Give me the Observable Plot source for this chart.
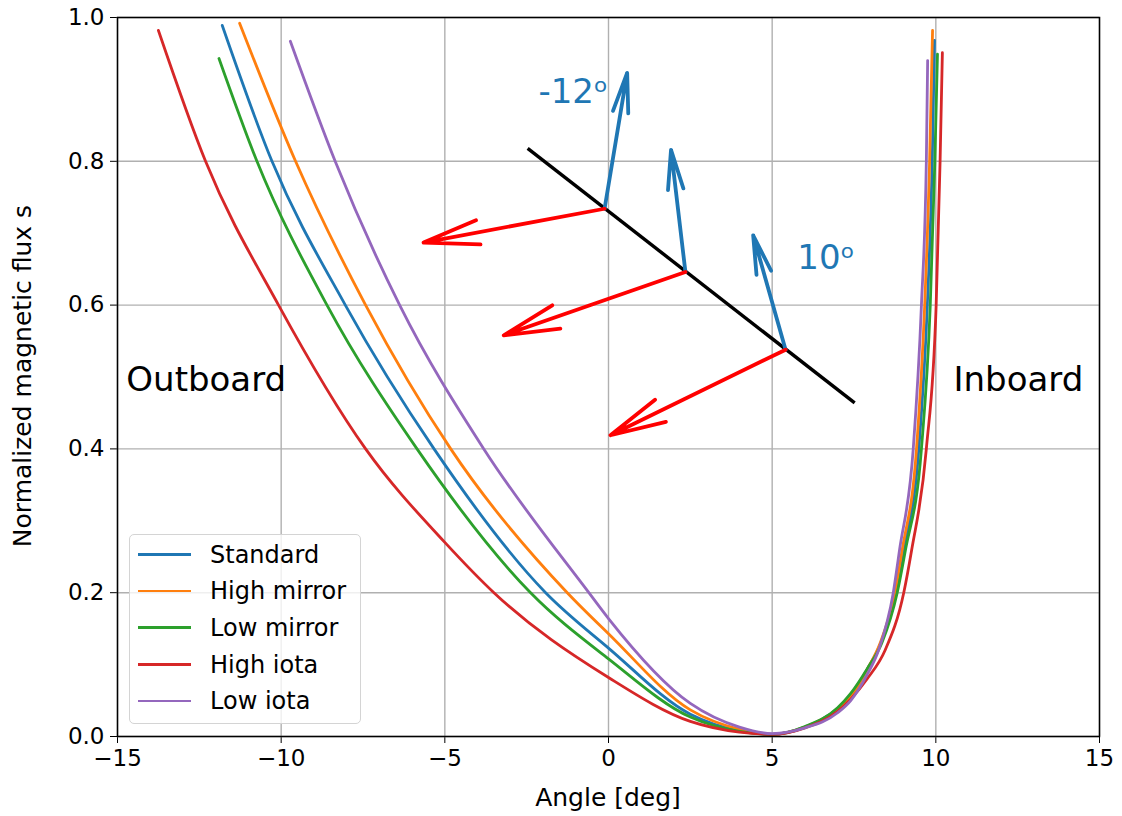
<!DOCTYPE html>
<html>
<head>
<meta charset="utf-8">
<script src="https://cdn.jsdelivr.net/npm/d3@7"></script>
<script src="https://cdn.jsdelivr.net/npm/@observablehq/plot@0.6"></script>
<style>
  body { margin: 0; background: #fff; font-family: "DejaVu Sans", sans-serif; }
  #wrap { position: relative; width: 1122px; height: 816px; overflow: hidden; }
  #wrap svg { position: absolute; left: 0; top: 0; }
  .axlabel { position: absolute; font-size: 25px; color: #000; text-align: center; white-space: nowrap; }
  .legend { position: absolute; left: 129px; top: 534px; width: 232px; height: 190px; box-sizing: border-box;
            border: 1.5px solid #d4d4d4; border-radius: 5px; background: rgba(255,255,255,0.8); }
  .legend .sw { position: absolute; left: 8px; width: 53px; height: 2.8px; }
  .legend .lb { position: absolute; left: 80px; font-size: 24px; line-height: 24px; color: #000; white-space: nowrap; }
</style>
</head>
<body>
<div id="wrap"></div>
<script>
// ---------- data ----------
const seriesNames  = ["Standard", "High mirror", "Low mirror", "High iota", "Low iota"];
const seriesColors = ["#1f77b4", "#ff7f0e", "#2ca02c", "#d62728", "#9467bd"];

const standardAngle = [-11.8, -10.28, -8.04, -5.33, -1.92, 0, 2.5, 4, 5, 6, 7, 7.4, 7.9, 8.32, 8.78, 9.02, 9.48, 9.74, 9.89, 9.96];
const standardFlux  = [0.989, 0.8, 0.6, 0.4, 0.2, 0.123, 0.031, 0.008, 0.003, 0.013, 0.039, 0.056, 0.093, 0.13, 0.2, 0.259, 0.4, 0.6, 0.8, 0.968];

const highMirrorAngle = [-11.27, -9.56, -7.42, -4.82, -1.26, 0, 2.5, 4, 5, 6, 7, 7.4, 7.9, 8.3, 8.75, 8.97, 9.41, 9.66, 9.81, 9.9];
const highMirrorFlux  = [0.992, 0.8, 0.6, 0.4, 0.2, 0.143, 0.037, 0.01, 0.003, 0.013, 0.038, 0.055, 0.093, 0.13, 0.2, 0.259, 0.4, 0.6, 0.8, 0.982];

const lowMirrorAngle = [-11.9, -10.74, -8.6, -5.85, -2.38, 0, 2.5, 4, 5, 6, 7, 7.4, 7.9, 8.35, 8.82, 9.07, 9.56, 9.83, 9.97, 10.05];
const lowMirrorFlux  = [0.943, 0.8, 0.6, 0.4, 0.2, 0.108, 0.027, 0.007, 0.003, 0.014, 0.04, 0.06, 0.094, 0.13, 0.2, 0.259, 0.4, 0.6, 0.8, 0.949];

const highIotaAngle = [-13.75, -12.31, -10.08, -7.42, -5, -3.5, 0, 2.5, 4, 5, 6, 7, 7.4, 7.9, 8.45, 9.02, 9.26, 9.71, 10.01, 10.13, 10.2];
const highIotaFlux  = [0.982, 0.8, 0.6, 0.4, 0.27, 0.2, 0.082, 0.021, 0.006, 0.003, 0.012, 0.035, 0.052, 0.08, 0.12, 0.2, 0.259, 0.4, 0.6, 0.8, 0.951];

const lowIotaAngle = [-9.72, -8.35, -6.38, -3.81, -0.6, 0, 2.5, 4, 5, 6, 7, 7.4, 7.9, 8.25, 8.7, 8.89, 9.31, 9.56, 9.71, 9.75];
const lowIotaFlux  = [0.967, 0.8, 0.6, 0.4, 0.2, 0.164, 0.046, 0.013, 0.004, 0.012, 0.033, 0.05, 0.086, 0.12, 0.2, 0.259, 0.4, 0.6, 0.8, 0.94];

// annotation: surface line, normal (blue) and field (red) arrows
const surfaceAngle = [-2.47, 7.52];
const surfaceFlux  = [0.818, 0.464];
const arrowBaseAngle = [-0.12, 2.35, 5.41];
const arrowBaseFlux  = [0.734, 0.646, 0.538];
const normalTipAngle = [0.57, 1.91, 4.42];
const normalTipFlux  = [0.923, 0.816, 0.697];
const fieldTipAngle  = [-5.65, -3.2, 0.06];
const fieldTipFlux   = [0.687, 0.558, 0.419];

const angleLabels     = ["-12\u1D52", "10\u1D52"];
const angleLabelAngle = [-2.14, 5.77];
const angleLabelFlux  = [0.896, 0.666];

const sideLabels     = ["Outboard", "Inboard"];
const sideLabelAngle = [-14.73, 10.54];
const sideLabelFlux  = [0.495, 0.495];

const xTicks = [-15, -10, -5, 0, 5, 10, 15];
const yTicks = [0, 0.2, 0.4, 0.6, 0.8, 1.0];
const xLabel = "Angle [deg]";
const yLabel = "Normalized magnetic flux s";

// ---------- build tables ----------
const seriesAngles = [standardAngle, highMirrorAngle, lowMirrorAngle, highIotaAngle, lowIotaAngle];
const seriesFluxes = [standardFlux, highMirrorFlux, lowMirrorFlux, highIotaFlux, lowIotaFlux];
const curveRows = [];
seriesNames.forEach((name, k) => {
  seriesAngles[k].forEach((a, i) => curveRows.push({series: name, angle: a, flux: seriesFluxes[k][i]}));
});
const surfaceRows = [{x1: surfaceAngle[0], y1: surfaceFlux[0], x2: surfaceAngle[1], y2: surfaceFlux[1]}];
const normalRows = arrowBaseAngle.map((a, i) => ({x1: a, y1: arrowBaseFlux[i], x2: normalTipAngle[i], y2: normalTipFlux[i]}));
const fieldRows  = arrowBaseAngle.map((a, i) => ({x1: a, y1: arrowBaseFlux[i], x2: fieldTipAngle[i], y2: fieldTipFlux[i]}));
const angleLabelRows = angleLabels.map((t, i) => ({text: t, x: angleLabelAngle[i], y: angleLabelFlux[i]}));
const sideLabelRows  = sideLabels.map((t, i) => ({text: t, x: sideLabelAngle[i], y: sideLabelFlux[i]}));

const fmtX = d => (d < 0 ? "\u2212" + Math.abs(d) : String(d));

const chart = Plot.plot({
  width: 1122,
  height: 816,
  marginTop: 17,
  marginRight: 23,
  marginBottom: 80,
  marginLeft: 117,
  style: {fontFamily: "DejaVu Sans, sans-serif", fontSize: "23px", color: "#000", background: "transparent", overflow: "visible"},
  x: {domain: [-15, 15], ticks: xTicks, tickFormat: fmtX, tickSize: 7, tickPadding: 6, label: null},
  y: {domain: [0, 1], ticks: yTicks, tickFormat: d3.format(".1f"), tickSize: 7, tickPadding: 6, label: null},
  color: {domain: seriesNames, range: seriesColors},
  marks: [
    Plot.gridX(xTicks, {stroke: "#b0b0b0", strokeOpacity: 1, strokeWidth: 1.4}),
    Plot.gridY(yTicks, {stroke: "#b0b0b0", strokeOpacity: 1, strokeWidth: 1.4}),
    Plot.line(curveRows, {x: "angle", y: "flux", z: "series", stroke: "series", strokeWidth: 2.8, curve: "monotone-x"}),
    Plot.link(surfaceRows, {x1: "x1", y1: "y1", x2: "x2", y2: "y2", stroke: "#000", strokeWidth: 3.4}),
    Plot.arrow(normalRows, {x1: "x1", y1: "y1", x2: "x2", y2: "y2", stroke: "#1f77b4", strokeWidth: 3.8, headLength: 16, headAngle: 22}),
    Plot.arrow(fieldRows, {x1: "x1", y1: "y1", x2: "x2", y2: "y2", stroke: "#ff0000", strokeWidth: 3.8, headLength: 22.5, headAngle: 25}),
    Plot.text(angleLabelRows, {x: "x", y: "y", text: "text", textAnchor: "start", fontSize: 34, fill: "#1f77b4"}),
    Plot.text(sideLabelRows, {x: "x", y: "y", text: "text", textAnchor: "start", fontSize: 34, fill: "#000"}),
    Plot.frame({stroke: "#000", strokeWidth: 1.5})
  ]
});

const wrap = document.getElementById("wrap");
wrap.appendChild(chart);

// axis labels
const xl = document.createElement("div");
xl.className = "axlabel";
xl.textContent = xLabel;
xl.style.left = (608 - 250) + "px";
xl.style.width = "500px";
xl.style.top = "785px";
xl.style.lineHeight = "25px";
wrap.appendChild(xl);

const yl = document.createElement("div");
yl.className = "axlabel";
yl.textContent = yLabel;
yl.style.width = "500px";
yl.style.height = "30px";
yl.style.lineHeight = "30px";
yl.style.left = (23 - 250 - 0.5) + "px";
yl.style.top = (376 - 15) + "px";
yl.style.transform = "rotate(-90deg)";
wrap.appendChild(yl);

// legend
const lg = document.createElement("div");
lg.className = "legend";
seriesNames.forEach((name, i) => {
  const cy = 19.3 + i * 36.67;
  const sw = document.createElement("div");
  sw.className = "sw";
  sw.style.top = (cy - 1.4) + "px";
  sw.style.background = seriesColors[i];
  lg.appendChild(sw);
  const lb = document.createElement("div");
  lb.className = "lb";
  lb.style.top = (cy - 11.5) + "px";
  lb.textContent = name;
  lg.appendChild(lb);
});
wrap.appendChild(lg);
</script>
</body>
</html>
